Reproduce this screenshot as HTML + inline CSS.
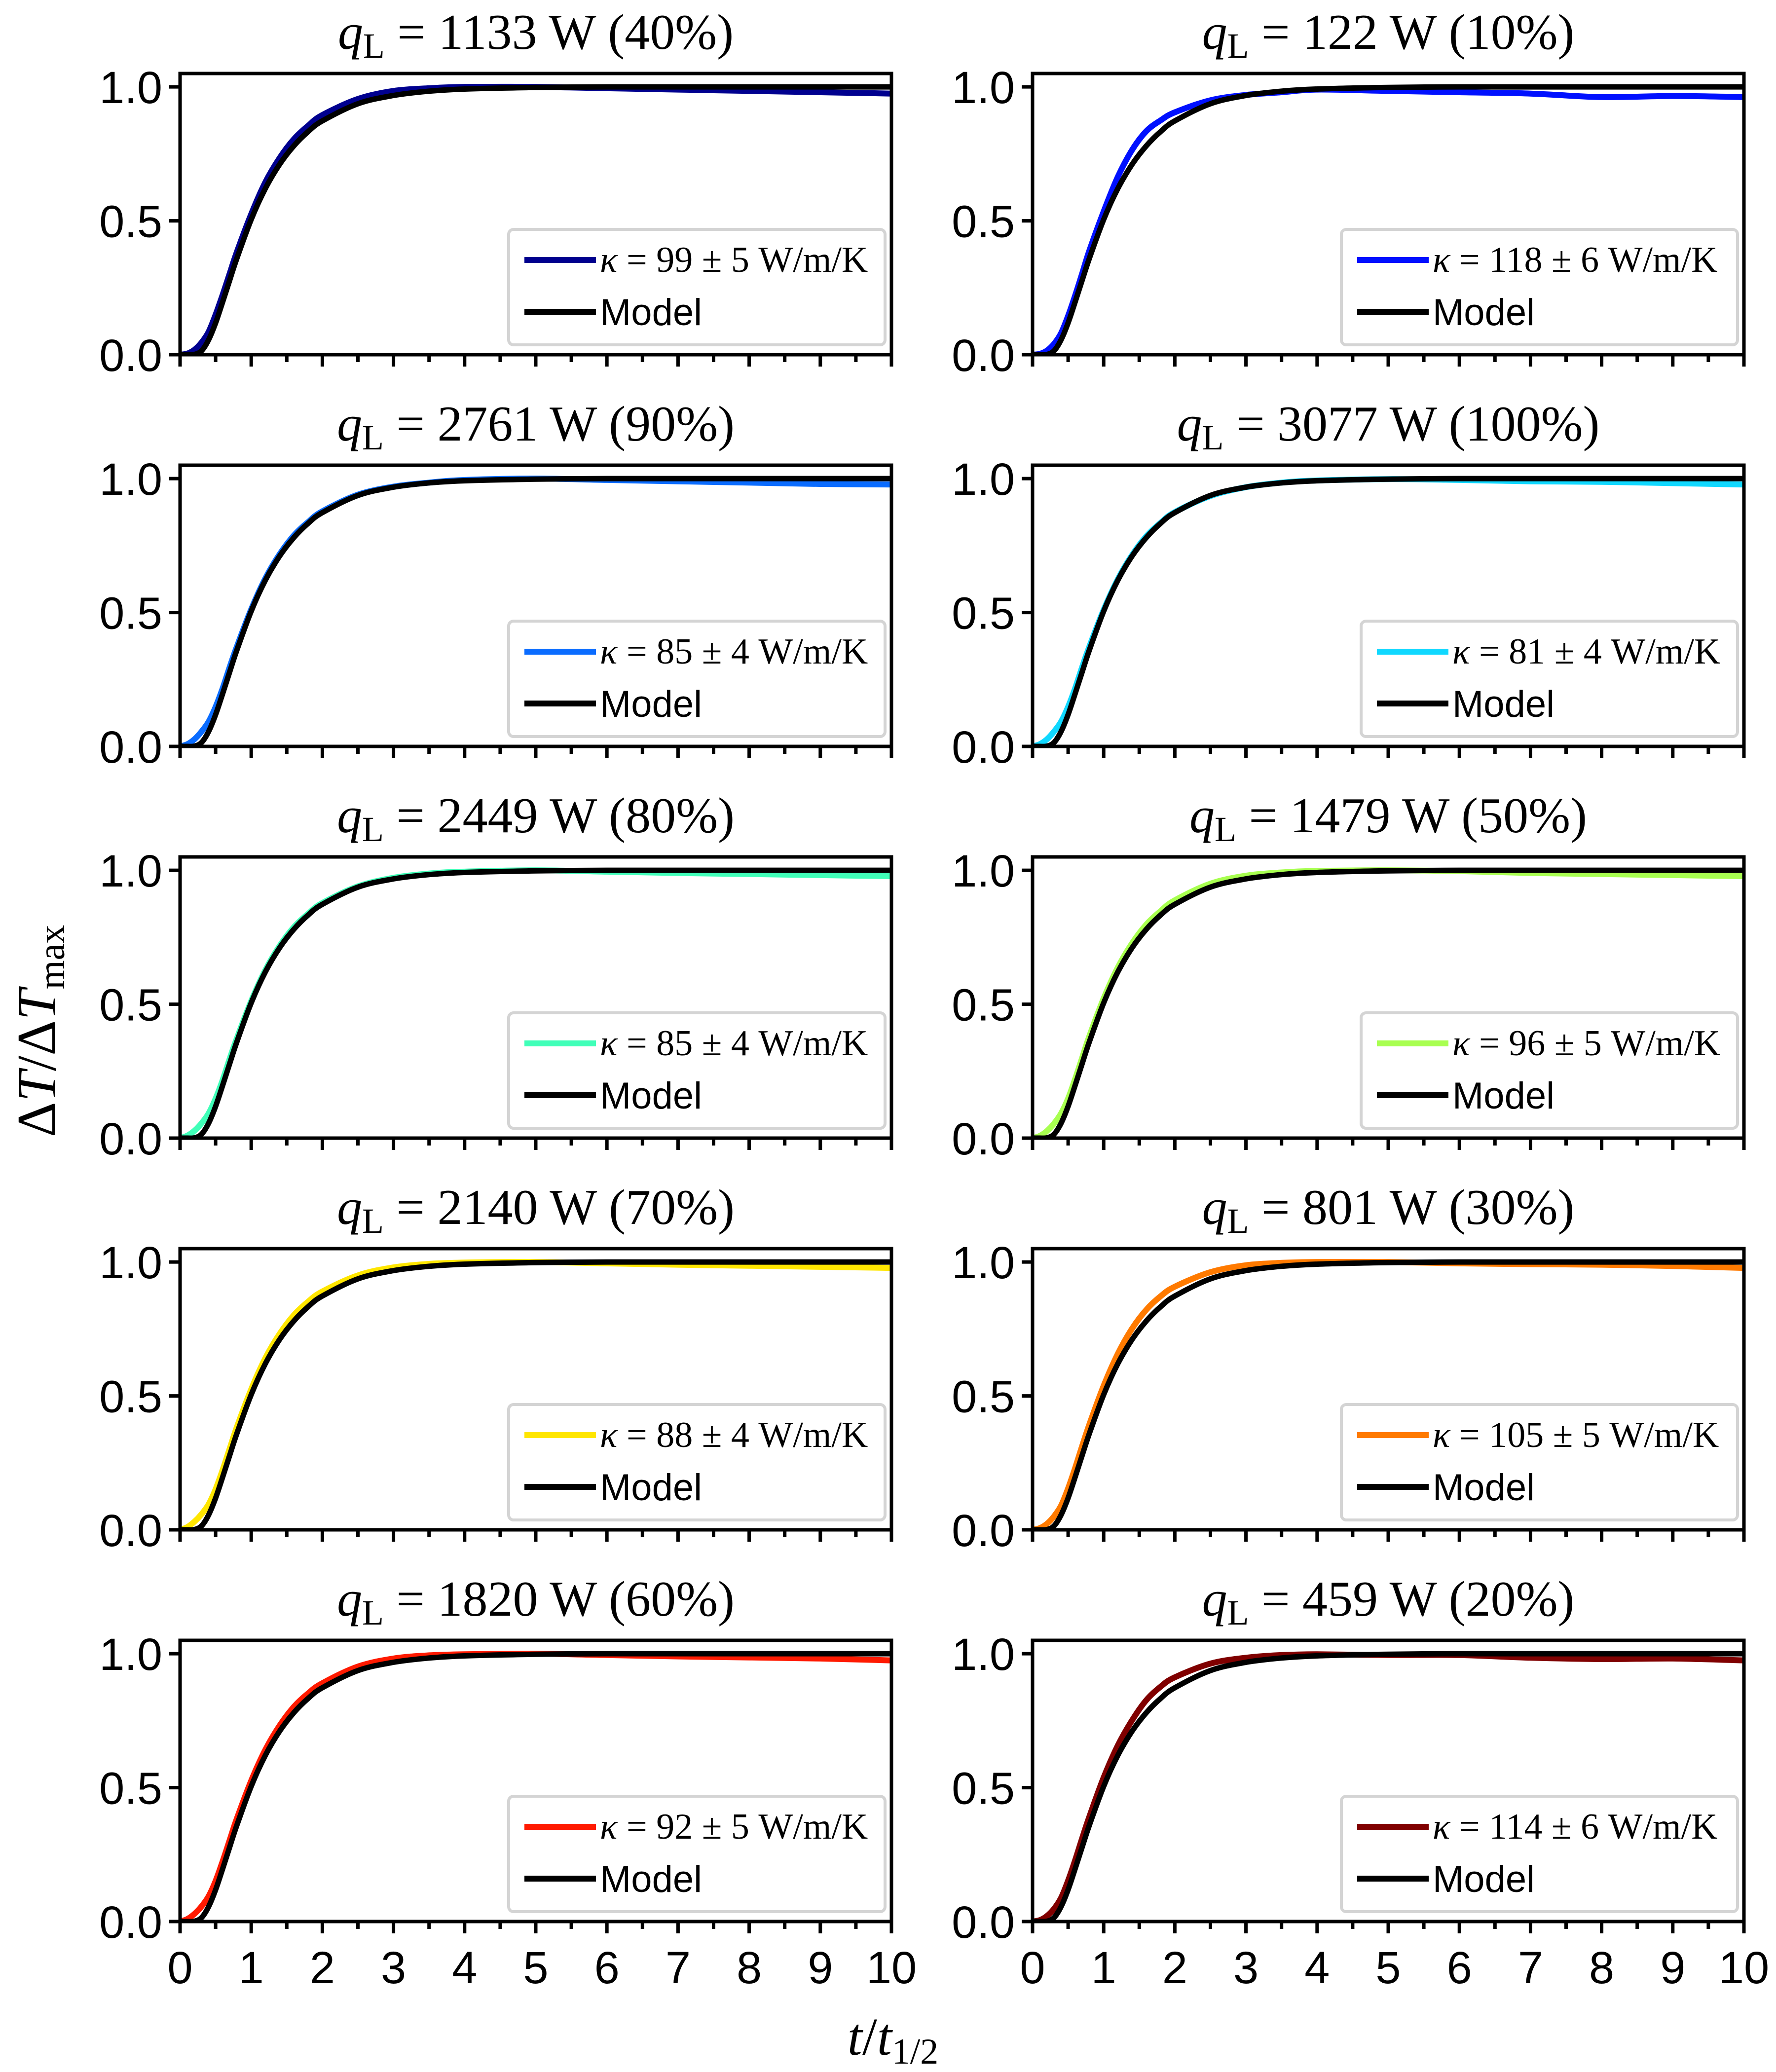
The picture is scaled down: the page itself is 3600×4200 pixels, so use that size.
<!DOCTYPE html>
<html><head><meta charset="utf-8"><style>
html,body{margin:0;padding:0;background:#fff;}
svg{display:block;}
.sans{font-family:"Liberation Sans",sans-serif;}
.serif{font-family:"Liberation Serif",serif;}
</style></head>
<body>
<svg id="chart" width="3600" height="4200" viewBox="0 0 3600 4200" xmlns="http://www.w3.org/2000/svg">
<rect width="3600" height="4200" fill="#fff"/>
<text class="serif" font-size="112" transform="translate(112,2090) rotate(-90)" text-anchor="middle">Δ<tspan font-style="italic">T</tspan>/Δ<tspan font-style="italic">T</tspan><tspan font-size="76" dy="18">max</tspan></text>
<text class="serif" font-size="108" x="1810" y="4165" text-anchor="middle"><tspan font-style="italic">t</tspan>/<tspan font-style="italic">t</tspan><tspan font-size="74" dy="18">1/2</tspan></text>
</svg>
<script>
const tValues = [0,0.1,0.2,0.3,0.4,0.5,0.6,0.7,0.8,1,1.2,1.4,1.6,1.8,2,2.5,3,3.5,4,5,6,7,8,9,10];
const modelValues = [0,0,0.001,0.014,0.055,0.119,0.198,0.280,0.361,0.505,0.621,0.711,0.780,0.833,0.873,0.937,0.968,0.984,0.992,0.998,1,1,1,1,1];
const titlesPower = ["1133","122","2761","3077","2449","1479","2140","801","1820","459"];
const titlesPct = ["40%","10%","90%","100%","80%","50%","70%","30%","60%","20%"];
const kappaLabels = ["99 ± 5","118 ± 6","85 ± 4","81 ± 4","85 ± 4","96 ± 5","88 ± 4","105 ± 5","92 ± 5","114 ± 6"];
const seriesColors = ["#00008f","#0010ff","#0a6cff","#10d8ff","#40ffb8","#a8ff50","#ffe600","#ff7a00","#ff1a00","#800000"];
const data0 = [0,0.004,0.018,0.045,0.085,0.15,0.225,0.305,0.385,0.525,0.645,0.735,0.805,0.855,0.895,0.955,0.985,0.995,1.0,1.0,0.995,0.99,0.985,0.98,0.975];
const data1 = [0,0.003,0.015,0.04,0.08,0.145,0.222,0.305,0.39,0.535,0.665,0.765,0.835,0.875,0.905,0.95,0.97,0.98,0.99,0.985,0.98,0.975,0.962,0.966,0.962];
const data2 = [0,0.008,0.026,0.055,0.092,0.148,0.218,0.298,0.374,0.512,0.628,0.718,0.788,0.838,0.878,0.94,0.97,0.985,0.995,1.0,0.995,0.99,0.985,0.98,0.978];
const data3 = [0,0.008,0.026,0.055,0.092,0.148,0.218,0.298,0.374,0.51,0.625,0.715,0.785,0.835,0.875,0.935,0.968,0.985,0.993,0.998,0.995,0.99,0.988,0.983,0.978];
const data4 = [0,0.009,0.027,0.055,0.092,0.148,0.218,0.298,0.374,0.512,0.628,0.718,0.788,0.838,0.878,0.94,0.972,0.988,0.995,1.0,0.995,0.99,0.986,0.982,0.978];
const data5 = [0,0.008,0.026,0.054,0.092,0.148,0.222,0.302,0.382,0.522,0.638,0.728,0.798,0.848,0.888,0.95,0.98,0.992,0.998,1.0,0.997,0.99,0.986,0.982,0.978];
const data6 = [0,0.01,0.03,0.058,0.095,0.152,0.225,0.305,0.385,0.525,0.642,0.732,0.802,0.852,0.89,0.95,0.98,0.993,0.998,1.0,0.995,0.99,0.986,0.982,0.978];
const data7 = [0,0.006,0.022,0.05,0.09,0.155,0.232,0.315,0.395,0.538,0.658,0.752,0.822,0.872,0.908,0.962,0.988,0.997,1.0,1.0,0.995,0.992,0.99,0.985,0.978];
const data8 = [0,0.009,0.028,0.056,0.094,0.152,0.226,0.306,0.386,0.526,0.642,0.732,0.802,0.852,0.89,0.952,0.982,0.994,0.998,1.0,0.995,0.99,0.986,0.982,0.975];
const data9 = [0,0.005,0.02,0.047,0.088,0.153,0.23,0.313,0.393,0.538,0.658,0.752,0.827,0.877,0.912,0.963,0.985,0.995,0.998,0.995,0.995,0.985,0.98,0.982,0.975];
const allData = [data0,data1,data2,data3,data4,data5,data6,data7,data8,data9];

const NS = "http://www.w3.org/2000/svg";
const svg = document.getElementById("chart");
function mk(tag, attrs, parent){const e=document.createElementNS(NS,tag);for(const k in attrs)e.setAttribute(k,attrs[k]);(parent||svg).appendChild(e);return e;}
function smoothPath(P){
  let d = "M" + P[0][0].toFixed(1) + "," + P[0][1].toFixed(1);
  for (let i = 0; i < P.length - 1; i++) {
    const p0 = P[Math.max(0,i-1)], p1 = P[i], p2 = P[i+1], p3 = P[Math.min(P.length-1,i+2)];
    const c1x = p1[0] + (p2[0]-p0[0])/6, c1y = p1[1] + (p2[1]-p0[1])/6;
    const c2x = p2[0] - (p3[0]-p1[0])/6, c2y = p2[1] - (p3[1]-p1[1])/6;
    d += " C" + c1x.toFixed(1) + "," + c1y.toFixed(1) + " " + c2x.toFixed(1) + "," + c2y.toFixed(1) + " " + p2[0].toFixed(1) + "," + p2[1].toFixed(1);
  }
  return d;
}
const colX = [365, 2093];
const PW = 1442, PH = 570, TOP0 = 149, ROWSTEP = 794;
const XMAX = 10, YMAX = 1.05;

for (let i = 0; i < 10; i++) {
  const col = i % 2, row = Math.floor(i / 2);
  const x0 = colX[col], y0 = TOP0 + row * ROWSTEP;
  const sx = v => x0 + v / XMAX * PW;
  const sy = v => y0 + PH - v / YMAX * PH;
  const g = mk("g", {});
  
  
  const tt = mk("text", {x: x0 + PW/2, y: y0 - 50, "text-anchor": "middle", "font-size": 102, class: "serif"}, g);
  
  
  tt.innerHTML = '<tspan font-style="italic">q</tspan><tspan font-size="72" dy="18">L</tspan><tspan dy="-18"> = ' + titlesPower[i] + ' W (' + titlesPct[i] + ')</tspan>';
  const cp = mk("clipPath", {id: "cp" + i}, g);
  mk("rect", {x: x0, y: y0, width: PW, height: PH}, cp);
  const dl = mk("path", {d: smoothPath(tValues.map((t, k) => [sx(t), sy(allData[i][k])])), fill: "none", stroke: seriesColors[i], "stroke-width": 12, "stroke-linejoin": "round", "stroke-linecap": "round", "clip-path": "url(#cp" + i + ")"}, g);
  
  
  const ml = mk("path", {d: smoothPath(tValues.map((t, k) => [sx(t), sy(modelValues[k])])), fill: "none", stroke: "#000", "stroke-width": 11, "stroke-linejoin": "round", "clip-path": "url(#cp" + i + ")"}, g);
  
  
  const fr = mk("rect", {x: x0, y: y0, width: PW, height: PH, fill: "none", stroke: "#000", "stroke-width": 7}, g);
  
  
  [0, 0.5, 1.0].forEach(v => {
    mk("line", {x1: x0 - 22, x2: x0, y1: sy(v), y2: sy(v), stroke: "#000", "stroke-width": 7}, g);
    const lb = mk("text", {x: x0 - 36, y: sy(v) + 33, "text-anchor": "end", "font-size": 92, class: "sans"}, g);
    
    
    lb.textContent = v.toFixed(1);
  });
  for (let k = 0; k <= 20; k++) {
    const v = k / 2, major = k % 2 === 0;
    mk("line", {x1: sx(v), x2: sx(v), y1: y0 + PH, y2: y0 + PH + (major ? 24 : 15), stroke: "#000", "stroke-width": 7}, g);
    if (major && row === 4) {
      const lb = mk("text", {x: sx(v), y: y0 + PH + 125, "text-anchor": "middle", "font-size": 92, class: "sans"}, g);
      
      
      lb.textContent = String(v);
    }
  }
  const lw = kappaLabels[i].length > 6 ? 803 : 763;
  const lx = x0 + PW - 13 - lw, ly = y0 + PH - 20 - 234;
  const lg = mk("g", {}, g);
  
  
  mk("rect", {x: lx, y: ly, width: lw, height: 234, rx: 10, fill: "#fff", "fill-opacity": 0.85, stroke: "#d4d4d4", "stroke-width": 6}, lg);
  mk("line", {x1: lx + 32, x2: lx + 177, y1: ly + 62, y2: ly + 62, stroke: seriesColors[i], "stroke-width": 12}, lg);
  const kt = mk("text", {x: lx + 185, y: ly + 86, "font-size": 74, class: "serif"}, lg);
  
  
  kt.innerHTML = '<tspan font-style="italic">κ</tspan> = ' + kappaLabels[i] + ' W/m/K';
  mk("line", {x1: lx + 32, x2: lx + 177, y1: ly + 167, y2: ly + 167, stroke: "#000", "stroke-width": 12}, lg);
  const mt = mk("text", {x: lx + 185, y: ly + 194, "font-size": 76, class: "sans"}, lg);
  
  
  mt.textContent = "Model";
}
</script>
</body></html>
